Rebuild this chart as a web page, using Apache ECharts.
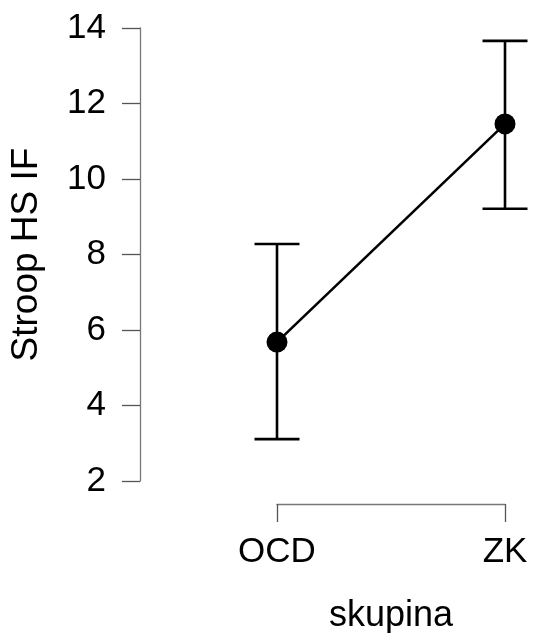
<!DOCTYPE html>
<html>
<head>
<meta charset="utf-8">
<script src="https://cdn.jsdelivr.net/npm/echarts@6/dist/echarts.min.js"></script>
<style>html,body{margin:0;padding:0;background:#fff}#c{width:533px;height:633px}</style>
</head>
<body>
<div id="c"></div>
<script>
var categories = ['OCD', 'ZK'];
var means = [5.68, 11.46];
var lower = [3.11, 9.21];
var upper = [8.28, 13.66];
var yTicks = [2, 4, 6, 8, 10, 12, 14];

var chart = echarts.init(document.getElementById('c'), null, {renderer: 'canvas'});
var font = '"Liberation Sans", Arial, Helvetica, sans-serif';
var errData = categories.map(function (c, i) { return [i, lower[i], upper[i]]; });

chart.setOption({
  animation: false,
  backgroundColor: '#ffffff',
  grid: {left: 277, right: 28, top: 28, bottom: 152, containLabel: false, outerBoundsMode: 'none'},
  xAxis: {
    type: 'category',
    data: categories,
    boundaryGap: false,
    offset: 23,
    name: 'skupina',
    nameLocation: 'middle',
    nameGap: 94,
    nameTextStyle: {fontFamily: font, fontSize: 36, color: '#000'},
    axisLine: {lineStyle: {color: '#777', width: 1.3}},
    axisTick: {length: 18, lineStyle: {color: '#555', width: 1.3}},
    axisLabel: {fontFamily: font, fontSize: 35, color: '#000', margin: 31},
    splitLine: {show: false}
  },
  yAxis: {
    type: 'value',
    min: yTicks[0],
    max: yTicks[yTicks.length - 1],
    interval: 2,
    offset: 137,
    name: 'Stroop HS IF',
    nameLocation: 'middle',
    nameGap: 95,
    nameRotate: 90,
    nameTextStyle: {fontFamily: font, fontSize: 37, color: '#000'},
    axisLine: {show: true, lineStyle: {color: '#777', width: 1.3}},
    axisTick: {show: true, length: 18, lineStyle: {color: '#555', width: 1.3}},
    axisLabel: {fontFamily: font, fontSize: 35, color: '#000', margin: 34},
    splitLine: {show: false}
  },
  series: [
    {
      type: 'custom',
      data: errData,
      z: 1,
      renderItem: function (params, api) {
        var x = api.value(0);
        var lo = api.coord([x, api.value(1)]);
        var hi = api.coord([x, api.value(2)]);
        var w = 22.5;
        var st = {stroke: '#000', lineWidth: 2.6};
        return {
          type: 'group',
          children: [
            {type: 'line', shape: {x1: lo[0], y1: lo[1], x2: hi[0], y2: hi[1]}, style: st},
            {type: 'line', shape: {x1: hi[0] - w, y1: hi[1], x2: hi[0] + w, y2: hi[1]}, style: st},
            {type: 'line', shape: {x1: lo[0] - w, y1: lo[1], x2: lo[0] + w, y2: lo[1]}, style: st}
          ]
        };
      }
    },
    {
      type: 'line',
      data: means,
      z: 3,
      symbol: 'circle',
      symbolSize: 21,
      itemStyle: {color: '#000'},
      lineStyle: {color: '#000', width: 2.6}
    }
  ]
});
</script>
</body>
</html>
